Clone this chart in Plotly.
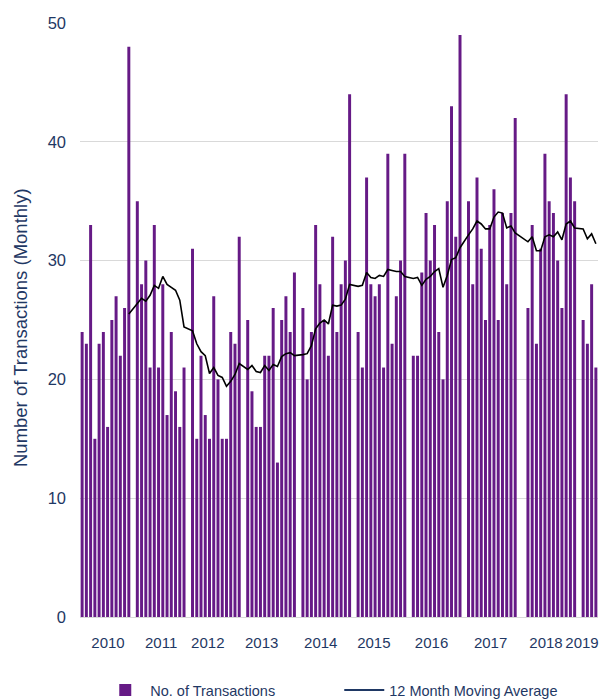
import plotly.graph_objects as go

# ---- data ----
years = [2010, 2011, 2012, 2013, 2014, 2015, 2016, 2017, 2018, 2019]
tx_2010 = [24, 23, 33, 15, 23, 24, 16, 25, 27, 22, 26, 48]
tx_2011 = [35, 28, 30, 21, 33, 21, 28, 17, 24, 19, 16, 21]
tx_2012 = [31, 15, 22, 17, 15, 27, 20, 15, 15, 24, 23, 32]
tx_2013 = [25, 19, 16, 16, 22, 22, 26, 13, 25, 27, 24, 29]
tx_2014 = [26, 20, 24, 33, 28, 25, 22, 32, 24, 28, 30, 44]
tx_2015 = [24, 21, 37, 28, 27, 28, 21, 39, 23, 27, 30, 39]
tx_2016 = [22, 22, 29, 34, 30, 33, 24, 20, 35, 43, 32, 49]
tx_2017 = [35, 28, 37, 31, 25, 33, 36, 25, 34, 28, 34, 42]
tx_2018 = [26, 33, 23, 31, 39, 35, 34, 30, 26, 44, 37, 35]
tx_2019 = [25, 23, 28, 21]
tx_by_year = [tx_2010, tx_2011, tx_2012, tx_2013, tx_2014,
              tx_2015, tx_2016, tx_2017, tx_2018, tx_2019]
tick_labels = [str(y) for y in years]

# ---- layout constants: empty category slots before each year group,
# and where each year label sits inside its group (in months) ----
spacer_slots_before = [0, 1, 1, 1, 1, 1, 1, 1, 2, 1]
label_offset = [6.1, 5.6, 3.6, 3.3, 4.2, 3.7, 4.3, 5.2, 4.25, -0.27]

slot_x, values, tick_vals = [], [], []
pos = 0
for yi, vals in enumerate(tx_by_year):
    pos += spacer_slots_before[yi]
    tick_vals.append(pos + label_offset[yi])
    for v in vals:
        slot_x.append(pos)
        values.append(v)
        pos += 1

# 12 month moving average (trailing)
ma_x, ma_y = [], []
for i in range(11, len(values)):
    ma_x.append(slot_x[i])
    ma_y.append(sum(values[i - 11:i + 1]) / 12)

NAVY = "#1F3864"
PURPLE = "#661A86"
FONT = "Liberation Sans, Arial, sans-serif"

fig = go.Figure()
fig.add_trace(go.Bar(x=slot_x, y=values, name="No. of Transactions",
                     marker=dict(color=PURPLE, line=dict(width=0))))
fig.add_trace(go.Scatter(x=ma_x, y=ma_y, mode="lines", showlegend=False,
                         line=dict(color="black", width=1.6)))
fig.add_trace(go.Scatter(x=[None], y=[None], mode="lines",
                         name="12 Month Moving Average",
                         line=dict(color=NAVY, width=2)))

fig.update_layout(
    width=603, height=720,
    margin=dict(l=72, r=13, t=15, b=111, autoexpand=False),
    paper_bgcolor="white", plot_bgcolor="white",
    bargap=0.3,
    font=dict(family=FONT, color=NAVY, size=16),
    showlegend=True,
    legend=dict(orientation="h", x=0.5005, xanchor="center",
                y=-0.1229, yanchor="middle",
                font=dict(size=14.5, color=NAVY), entrywidth=184,
                itemwidth=40, traceorder="normal"),
    xaxis=dict(range=[-0.5, pos - 0.5], tickmode="array",
               tickvals=tick_vals, ticktext=tick_labels, tickangle=0,
               automargin=False,
               showgrid=False, zeroline=False, showline=True,
               linecolor="#d9d9d9", linewidth=1, ticks="",
               ticklabelstandoff=12, ticklabeloverflow="allow",
               tickfont=dict(size=15, color=NAVY)),
    yaxis=dict(range=[0, 50], dtick=10, showgrid=True, gridcolor="#d9d9d9",
               automargin=False,
               gridwidth=1, zeroline=False, showline=False, ticks="",
               ticklabelstandoff=13, tickfont=dict(size=16.5, color=NAVY)),
    annotations=[dict(text="Number of Transactions (Monthly)", textangle=-90,
                      xref="paper", yref="paper", x=(20 - 80) / 518, y=0.4865,
                      xanchor="center", yanchor="middle", showarrow=False,
                      borderpad=0,
                      font=dict(size=18.5, color=NAVY))],
)

fig.write_html("out.html")
